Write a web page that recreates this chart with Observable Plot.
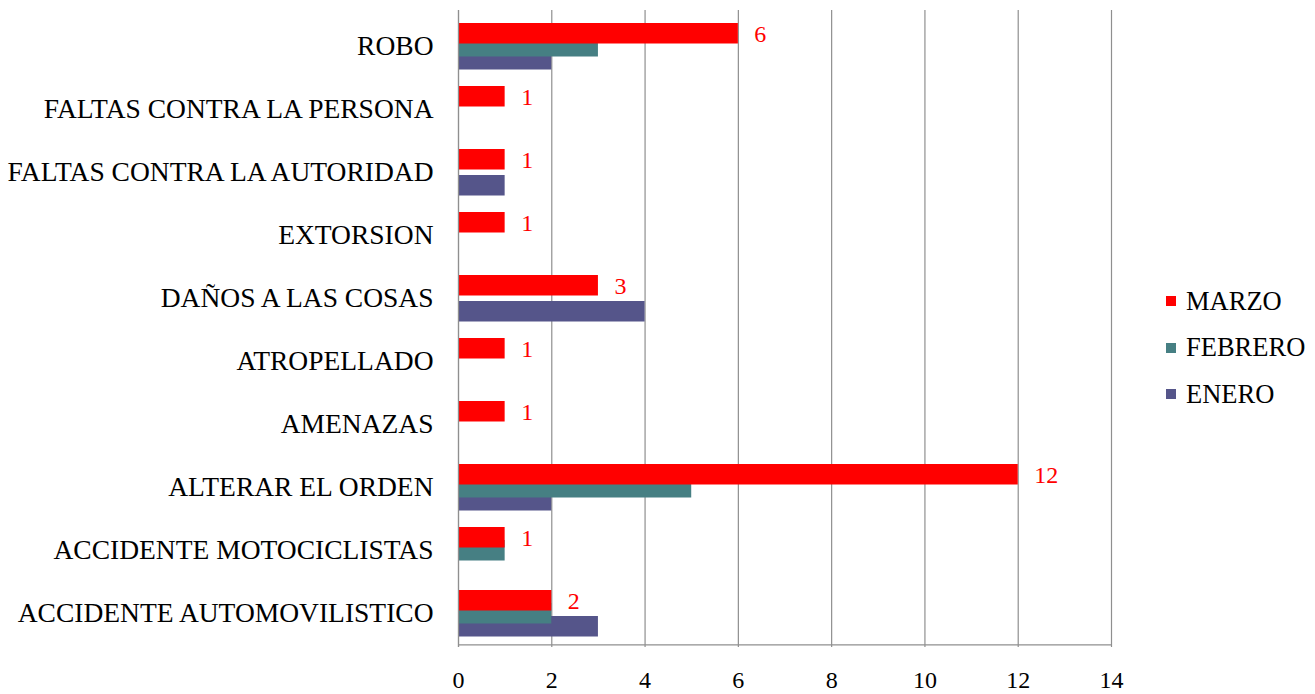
<!DOCTYPE html>
<html>
<head>
<meta charset="utf-8">
<script src="https://cdn.jsdelivr.net/npm/d3@7"></script>
<script src="https://cdn.jsdelivr.net/npm/@observablehq/plot@0.6"></script>
<style>
  html, body { margin: 0; padding: 0; background: #fff; }
  #wrap { position: relative; width: 1315px; height: 694px; }
  #legend { position: absolute; left: 1166px; top: 278px; font-family: "Liberation Serif", serif; font-size: 26.5px; color: #000; }
  #legend div { display: flex; align-items: center; height: 46.5px; }
  #legend span.sw { display: inline-block; width: 10px; height: 10px; margin-right: 10px; }
</style>
</head>
<body>
<div id="wrap"></div>
<script>
const categories = [
  "ROBO",
  "FALTAS CONTRA LA PERSONA",
  "FALTAS CONTRA LA AUTORIDAD",
  "EXTORSION",
  "DAÑOS A LAS COSAS",
  "ATROPELLADO",
  "AMENAZAS",
  "ALTERAR EL ORDEN",
  "ACCIDENTE MOTOCICLISTAS",
  "ACCIDENTE AUTOMOVILISTICO"
];
const series = ["MARZO", "FEBRERO", "ENERO"];
const colors = ["#FF0000", "#467F83", "#55558A"];
const marzo   = [6, 1, 1, 1, 3, 1, 1, 12, 1, 2];
const febrero = [3, 0, 0, 0, 0, 0, 0, 5, 1, 2];
const enero   = [2, 0, 1, 0, 4, 0, 0, 2, 0, 3];
const xTicks = [0, 2, 4, 6, 8, 10, 12, 14];

const rows = (vals, s) => categories.map((c, i) => ({cat: c, value: vals[i], series: s})).filter(d => d.value > 0);
const dMarzo = rows(marzo, "MARZO");
const dFeb = rows(febrero, "FEBRERO");
const dEne = rows(enero, "ENERO");

const FONT = "Liberation Serif, serif";
const gridColor = "#8f8f8f";

const chart = Plot.plot({
  width: 1315,
  height: 694,
  marginLeft: 458,
  marginRight: 204,
  marginTop: 10,
  marginBottom: 47,
  style: {fontFamily: FONT, fontSize: "22px", color: "#000", background: "#fff", overflow: "visible"},
  x: {domain: [0, 14], ticks: xTicks, label: null},
  y: {domain: categories, padding: 0, label: null},
  marks: [
    Plot.gridX(xTicks, {stroke: gridColor, strokeOpacity: 1, strokeWidth: 1.2}),
    Plot.ruleY([categories[categories.length - 1]], {stroke: gridColor, strokeWidth: 1.2, dy: 31.85, x1: 0, x2: 14}),
    Plot.barX(dEne, {x: "value", y: "cat", fill: colors[2], insetTop: 35, insetBottom: 7.5}),
    Plot.barX(dFeb, {x: "value", y: "cat", fill: colors[1], insetTop: 22, insetBottom: 20.5}),
    Plot.barX(dMarzo, {x: "value", y: "cat", fill: colors[0], insetTop: 9, insetBottom: 33.5}),
    Plot.text(dMarzo, {x: "value", y: "cat", text: d => String(d.value), fill: colors[0], textAnchor: "start", dx: 16, dy: -12, fontSize: 24, fontFamily: FONT}),
    Plot.axisX({ticks: xTicks, tickSize: 0, tickPadding: 23, fontSize: 24, fontFamily: FONT, fill: "#000", label: null}),
    Plot.axisY({tickSize: 0, tickPadding: 25, fontSize: 27.5, fontFamily: FONT, fill: "#000", label: null}),
    Plot.ruleX([0], {stroke: gridColor, strokeWidth: 1.2})
  ]
});

document.getElementById("wrap").appendChild(chart);

const legend = document.createElement("div");
legend.id = "legend";
series.forEach((s, i) => {
  const row = document.createElement("div");
  row.innerHTML = `<span class="sw" style="background:${colors[i]}"></span>${s}`;
  legend.appendChild(row);
});
document.getElementById("wrap").appendChild(legend);
</script>
</body>
</html>
